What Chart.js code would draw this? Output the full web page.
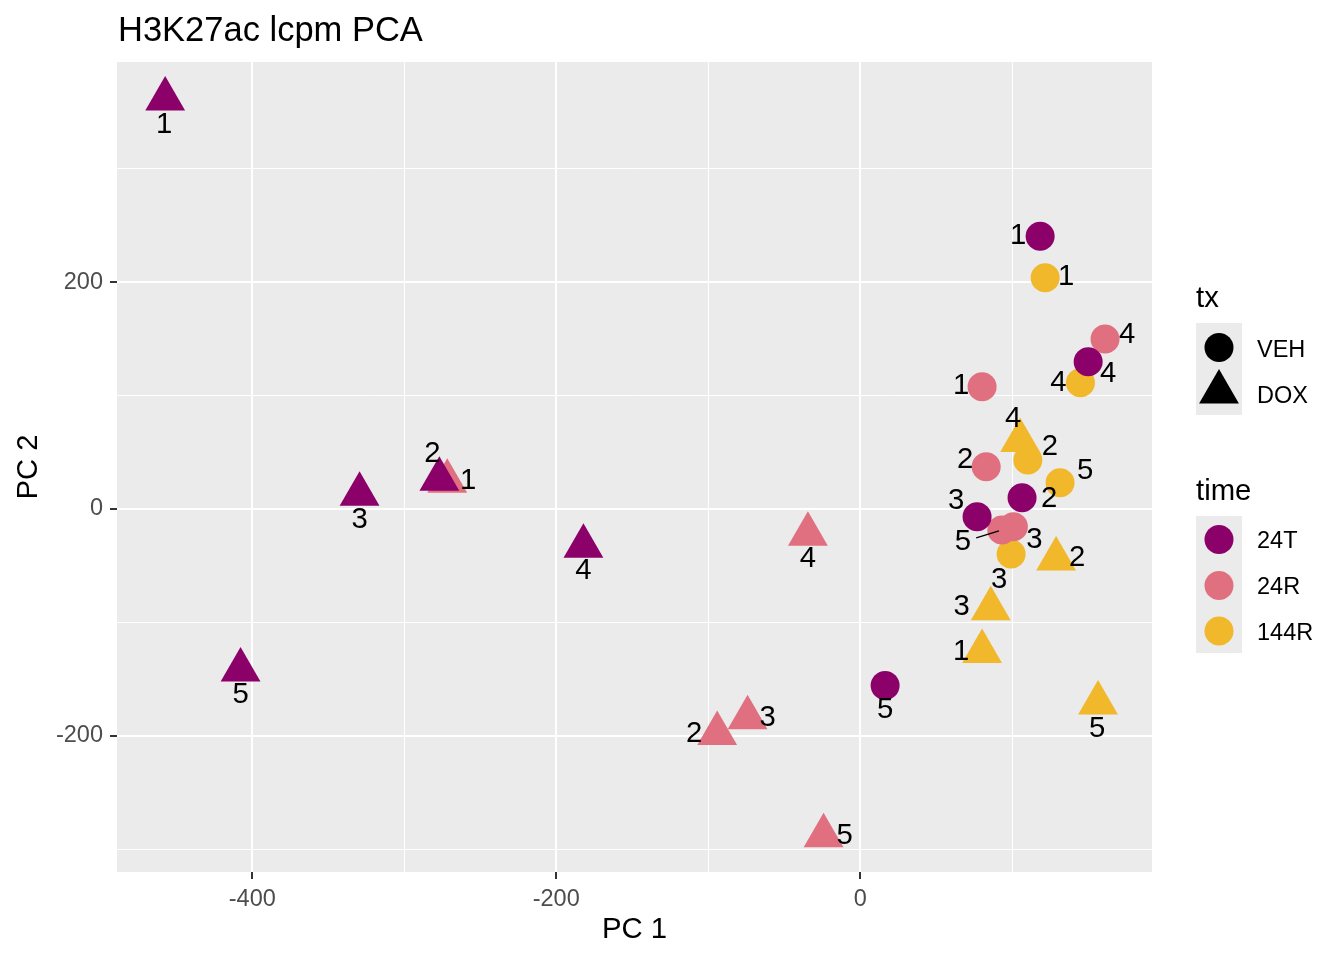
<!DOCTYPE html>
<html>
<head>
<meta charset="utf-8">
<title>H3K27ac lcpm PCA</title>
<script src="https://cdn.jsdelivr.net/npm/chart.js@4.4.0/dist/chart.umd.min.js"></script>
<style>
  html, body { margin: 0; padding: 0; background: #fff; }
  #wrap { width: 1344px; height: 960px; }
</style>
</head>
<body>
<div id="wrap"><canvas id="pcaChart" width="1344" height="960"></canvas></div>
<script>
// replicate labels and groups
var reps = ['1', '2', '3', '4', '5'];
var timeLevels = ['24T', '24R', '144R'];
var txLevels = ['VEH', 'DOX'];

// PC coordinates
var pc1_24T_VEH = [118.4, 106.5, 76.9, 150.0, 16.4];
var pc2_24T_VEH = [240.5, 10.0, -6.8, 129.8, -155.7];
var pc1_24R_VEH = [80.2, 82.9, 100.8, 161.1, 93.2];
var pc2_24R_VEH = [107.8, 37.3, -15.6, 149.8, -18.5];
var pc1_144R_VEH = [121.7, 110.3, 99.3, 144.9, 131.5];
var pc2_144R_VEH = [203.8, 43.2, -39.6, 111.3, 23.2];

var pc1_24T_DOX = [-457.3, -276.9, -329.4, -182.1, -407.7];
var pc2_24T_DOX = [361.4, 26.3, 13.0, -32.8, -142.0];
var pc1_24R_DOX = [-271.7, -94.1, -74.1, -34.4, -24.1];
var pc2_24R_DOX = [24.5, -198.0, -184.0, -22.2, -288.0];
var pc1_144R_DOX = [80.2, 128.9, 85.9, 105.2, 156.5];
var pc2_144R_DOX = [-125.6, -44.0, -88.0, 60.4, -171.0];

// axis ticks
var xMajorTicks = [-400, -200, 0];
var xMinorTicks = [-300, -100, 100];
var yMajorTicks = [-200, 0, 200];
var yMinorTicks = [-300, -100, 100, 300];

// styling (not data)
var timeColors = { '24T': '#8B0069', '24R': '#E07080', '144R': '#F0B82A' };
var txShapes = { 'VEH': 'circle', 'DOX': 'triangle' };
var txRadius = { 'VEH': 14.5, 'DOX': 23 };
var FONT = '"Liberation Sans", Arial, Helvetica, sans-serif';

// pixel nudges of the repelled text labels [dx, dy, segment?]
var nudge = {
  '24T_VEH': [[-22, 0], [27, 1], [-21, -16], [20, 12], [0, 24]],
  '24R_VEH': [[-21, -1], [-21, -7], [21, 13], [22, -4], [-39, 12, true]],
  '144R_VEH': [[21, -1], [22, -13], [-12, 26], [-22, 0], [25, -12]],
  '24T_DOX': [[-1, 26], [-7, -25], [0, 26], [0, 25], [0, 25]],
  '24R_DOX': [[21, 0], [-23, 0], [20, 0], [0, 25], [21, 0]],
  '144R_DOX': [[-21, 0], [21, -1], [-29, -2], [-7, -22], [-1, 26]]
};

var series = {
  '24T_VEH': [pc1_24T_VEH, pc2_24T_VEH],
  '24R_VEH': [pc1_24R_VEH, pc2_24R_VEH],
  '144R_VEH': [pc1_144R_VEH, pc2_144R_VEH],
  '24T_DOX': [pc1_24T_DOX, pc2_24T_DOX],
  '24R_DOX': [pc1_24R_DOX, pc2_24R_DOX],
  '144R_DOX': [pc1_144R_DOX, pc2_144R_DOX]
};

// chart.js paints dataset 0 last, so 24T goes first to end up on top
var drawOrder = ['24T', '24R', '144R'];
var datasets = [];
drawOrder.forEach(function (t) {
  txLevels.forEach(function (tx) {
    var key = t + '_' + tx;
    var xs = series[key][0], ys = series[key][1];
    datasets.push({
      label: key,
      data: xs.map(function (x, i) { return { x: x, y: ys[i] }; }),
      pointStyle: txShapes[tx],
      pointRadius: txRadius[tx],
      pointBorderWidth: 0,
      backgroundColor: timeColors[t],
      borderColor: timeColors[t],
      showLine: false,
      nudge: nudge[key]
    });
  });
});

function isIn(arr, v) { return arr.indexOf(v) !== -1; }

var ggPlugin = {
  id: 'gg',
  beforeDraw: function (chart) {
    var ctx = chart.ctx, a = chart.chartArea;
    ctx.save();
    ctx.fillStyle = '#FFFFFF';
    ctx.fillRect(0, 0, chart.width, chart.height);
    ctx.fillStyle = '#EBEBEB';
    ctx.fillRect(a.left, a.top, a.right - a.left, a.bottom - a.top);
    ctx.restore();
  },
  afterDatasetsDraw: function (chart) {
    var ctx = chart.ctx;
    ctx.save();
    ctx.font = '29.3px ' + FONT;
    ctx.fillStyle = '#000';
    ctx.textAlign = 'center';
    ctx.textBaseline = 'middle';
    chart.data.datasets.forEach(function (ds, i) {
      var meta = chart.getDatasetMeta(i);
      meta.data.forEach(function (pt, j) {
        var n = ds.nudge[j];
        var lx = pt.x + n[0], ly = pt.y + n[1];
        if (n[2]) {
          var dx = pt.x - lx, dy = pt.y - ly;
          var d = Math.sqrt(dx * dx + dy * dy);
          ctx.beginPath();
          ctx.strokeStyle = '#000';
          ctx.lineWidth = 1.5;
          ctx.moveTo(lx + dx / d * 14, ly + dy / d * 14);
          ctx.lineTo(pt.x - dx / d * 3, pt.y - dy / d * 3);
          ctx.stroke();
        }
        ctx.fillText(reps[j], lx, ly);
      });
    });
    ctx.restore();
  },
  afterDraw: function (chart) {
    var ctx = chart.ctx, a = chart.chartArea;
    ctx.save();
    ctx.fillStyle = '#000';
    ctx.textBaseline = 'alphabetic';

    // title
    ctx.font = '34.5px ' + FONT;
    ctx.textAlign = 'left';
    ctx.fillText('H3K27ac lcpm PCA', 118, 41);

    // axis titles
    ctx.font = '29.3px ' + FONT;
    ctx.textAlign = 'center';
    ctx.fillText('PC 1', (a.left + a.right) / 2, 938);
    ctx.save();
    ctx.translate(37, (a.top + a.bottom) / 2);
    ctx.rotate(-Math.PI / 2);
    ctx.fillText('PC 2', 0, 0);
    ctx.restore();

    // legends
    var kx = 1196, kw = 46, cx = kx + kw / 2, tx = 1257;
    ctx.textAlign = 'left';
    ctx.font = '29.3px ' + FONT;
    ctx.fillText('tx', kx, 307);
    ctx.fillStyle = '#EBEBEB';
    ctx.fillRect(kx, 323, kw, 92);
    ctx.fillStyle = '#000';
    ctx.beginPath();
    ctx.arc(cx, 347.5, 14.5, 0, Math.PI * 2);
    ctx.fill();
    var r = 23, ty = 392;
    ctx.beginPath();
    ctx.moveTo(cx, ty - r);
    ctx.lineTo(cx + r * 0.866, ty + r / 2);
    ctx.lineTo(cx - r * 0.866, ty + r / 2);
    ctx.closePath();
    ctx.fill();
    ctx.font = '23.5px ' + FONT;
    ctx.fillText(txLevels[0], tx, 357);
    ctx.fillText(txLevels[1], tx, 403);

    ctx.font = '29.3px ' + FONT;
    ctx.fillText('time', kx, 500);
    ctx.fillStyle = '#EBEBEB';
    ctx.fillRect(kx, 516, kw, 137);
    var keyY = [539.5, 585.5, 631];
    ctx.font = '23.5px ' + FONT;
    timeLevels.forEach(function (t, i) {
      ctx.fillStyle = timeColors[t];
      ctx.beginPath();
      ctx.arc(cx, keyY[i], 14.5, 0, Math.PI * 2);
      ctx.fill();
      ctx.fillStyle = '#000';
      ctx.fillText(t, tx, keyY[i] + 8.5);
    });
    ctx.restore();
  }
};

var tickFont = { family: FONT, size: 23.5 };

var ctx1 = document.getElementById('pcaChart').getContext('2d');
var pcaChart = new Chart(ctx1, {
  type: 'scatter',
  data: { datasets: datasets },
  options: {
    responsive: false,
    devicePixelRatio: 1,
    animation: false,
    events: [],
    layout: { padding: { top: 62, right: 192, left: 0, bottom: 0 } },
    plugins: {
      legend: { display: false },
      title: { display: false },
      tooltip: { enabled: false }
    },
    scales: {
      x: {
        type: 'linear',
        min: -489,
        max: 192,
        afterBuildTicks: function (scale) {
          scale.ticks = xMajorTicks.concat(xMinorTicks).sort(function (a, b) { return a - b; })
            .map(function (v) { return { value: v }; });
        },
        afterFit: function (scale) { scale.height = 88; },
        border: { display: false },
        grid: {
          color: '#FFFFFF',
          lineWidth: function (c) { return isIn(xMajorTicks, c.tick.value) ? 2 : 1; },
          drawTicks: true,
          tickLength: 7,
          tickWidth: 2,
          tickColor: function (c) { return isIn(xMajorTicks, c.tick.value) ? '#333333' : 'rgba(0,0,0,0)'; }
        },
        ticks: {
          autoSkip: false,
          maxRotation: 0,
          padding: 6,
          color: '#4D4D4D',
          font: tickFont,
          callback: function (v) { return isIn(xMajorTicks, v) ? String(v) : ''; }
        }
      },
      y: {
        type: 'linear',
        min: -320,
        max: 394,
        afterBuildTicks: function (scale) {
          scale.ticks = yMajorTicks.concat(yMinorTicks).sort(function (a, b) { return a - b; })
            .map(function (v) { return { value: v }; });
        },
        afterFit: function (scale) { scale.width = 117; },
        border: { display: false },
        grid: {
          color: '#FFFFFF',
          lineWidth: function (c) { return isIn(yMajorTicks, c.tick.value) ? 2 : 1; },
          drawTicks: true,
          tickLength: 7,
          tickWidth: 2,
          tickColor: function (c) { return isIn(yMajorTicks, c.tick.value) ? '#333333' : 'rgba(0,0,0,0)'; }
        },
        ticks: {
          autoSkip: false,
          padding: 7,
          color: '#4D4D4D',
          font: tickFont,
          callback: function (v) { return isIn(yMajorTicks, v) ? String(v) : ''; }
        }
      }
    }
  },
  plugins: [ggPlugin]
});
</script>
</body>
</html>
